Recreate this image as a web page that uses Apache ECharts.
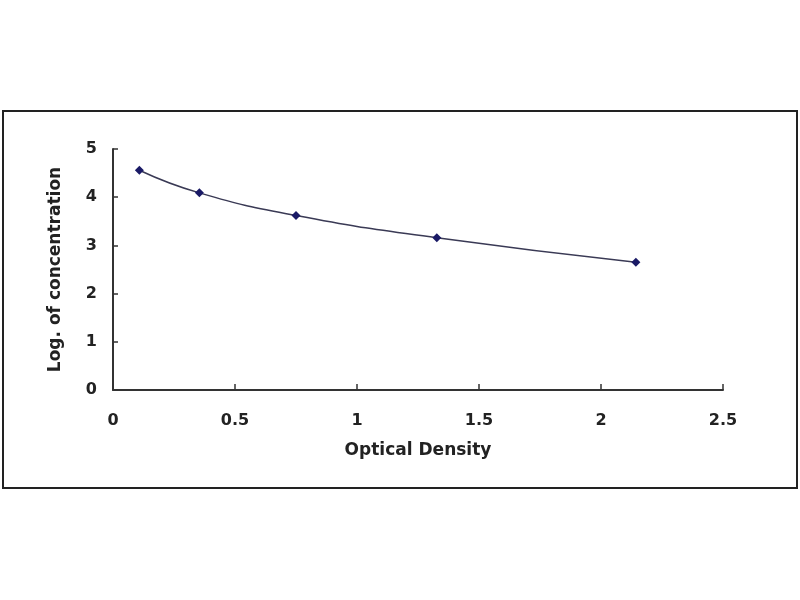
<!DOCTYPE html>
<html>
<head>
<meta charset="utf-8">
<script src="https://cdn.jsdelivr.net/npm/echarts@6/dist/echarts.min.js"></script>
<style>html,body{margin:0;padding:0;background:#fff;}#c{width:800px;height:600px;}</style>
</head>
<body>
<div id="c"></div>
<script>
const odValues = [0.108, 0.354, 0.75, 1.327, 2.143];
const logConc = [4.56, 4.09, 3.62, 3.16, 2.65];
const xTitle = 'Optical Density';
const yTitle = 'Log. of concentration';

const chart = echarts.init(document.getElementById('c'));
const fontFam = 'DejaVu Sans';
chart.setOption({
  backgroundColor: '#fff',
  animation: false,
  graphic: [{
    type: 'rect',
    shape: { x: 3, y: 111, width: 794, height: 377 },
    style: { fill: 'none', stroke: '#222', lineWidth: 2 }
  }],
  grid: { left: 113, right: 77, top: 149, bottom: 210 },
  xAxis: {
    type: 'value', min: 0, max: 2.5, interval: 0.5,
    name: xTitle, nameLocation: 'middle', nameGap: 52,
    nameTextStyle: { fontFamily: fontFam, fontWeight: 'bold', fontSize: 17, color: '#222' },
    axisLine: { lineStyle: { color: '#333', width: 2 } },
    axisTick: { show: true, inside: true, length: 6, lineStyle: { color: '#333', width: 1.5 } },
    axisLabel: { fontFamily: fontFam, fontWeight: 'bold', fontSize: 16, color: '#222', margin: 23 },
    splitLine: { show: false }
  },
  yAxis: {
    type: 'value', min: 0, max: 5, interval: 1,
    name: yTitle, nameLocation: 'middle', nameGap: 49,
    nameTextStyle: { fontFamily: fontFam, fontWeight: 'bold', fontSize: 17, color: '#222' },
    axisLine: { show: true, lineStyle: { color: '#333', width: 2 } },
    axisTick: { show: true, inside: true, length: 5, lineStyle: { color: '#333', width: 1.5 } },
    axisLabel: { fontFamily: fontFam, fontWeight: 'bold', fontSize: 16, color: '#222', margin: 16 },
    splitLine: { show: false }
  },
  series: [{
    type: 'line',
    data: odValues.map((x, i) => [x, logConc[i]]),
    smooth: true,
    symbol: 'diamond',
    symbolSize: 9,
    itemStyle: { color: '#1a1a66' },
    lineStyle: { color: '#3a3a55', width: 1.5 }
  }]
});
</script>
</body>
</html>
